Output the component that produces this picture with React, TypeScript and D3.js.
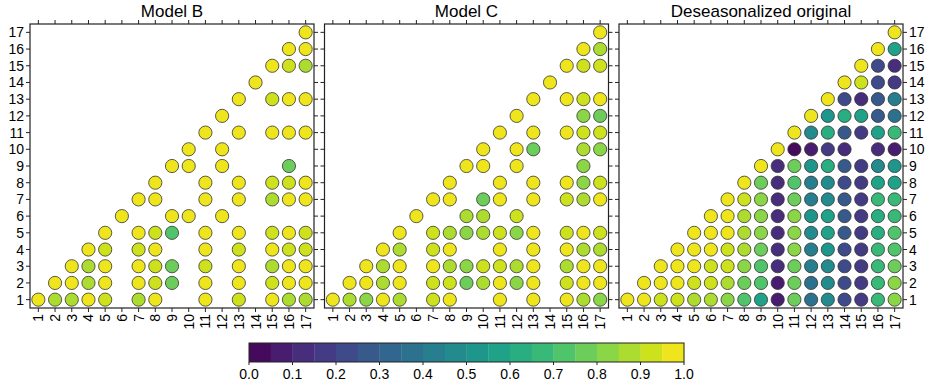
import React from "react";
import * as d3 from "d3";

// Values: each row r (1..17) lists columns r..17 (null = no point)
const modelB: (number | null)[][] = [
  [0.97, 0.87, 0.87, 0.97, 0.92, null, 0.87, 0.97, null, null, 0.97, null, 0.92, null, 0.97, 0.87, 0.87],
  [0.97, 0.97, 0.87, 0.97, null, 0.97, 0.92, 0.77, null, 0.97, null, 0.97, null, 0.92, 0.97, 0.97],
  [0.97, 0.87, 0.97, null, 0.97, 0.92, 0.77, null, 0.92, null, 0.97, null, 0.87, 0.97, 0.97],
  [0.97, 0.92, null, 0.92, 0.97, null, null, 0.97, null, 0.92, null, 0.97, 0.92, 0.92],
  [0.97, null, 0.97, 0.92, 0.72, null, 0.97, null, 0.97, null, 0.92, 0.97, 0.92],
  [0.97, null, null, 0.97, 0.97, null, 0.97, null, null, null, null, null],
  [0.97, 0.97, null, null, 0.97, null, 0.97, null, 0.87, 0.97, 0.97],
  [0.97, null, null, 0.97, null, 0.97, null, 0.92, 0.92, 0.97],
  [0.97, 0.97, null, 0.97, null, null, null, 0.77, null],
  [0.97, null, 0.97, null, null, null, null, null],
  [0.97, null, 0.97, null, 0.97, 0.97, 0.97],
  [0.97, null, null, null, null, null],
  [0.97, null, 0.92, 0.97, 0.97],
  [0.97, null, null, null],
  [0.97, 0.92, 0.87],
  [0.97, 0.97],
  [0.97],
];

const modelC: (number | null)[][] = [
  [0.97, 0.87, 0.82, 0.97, 0.87, null, 0.92, 0.97, null, null, 0.97, null, 0.97, null, 0.97, 0.87, 0.82],
  [0.97, 0.97, 0.87, 0.97, null, 0.92, 0.92, 0.77, 0.87, 0.97, 0.82, 0.97, null, 0.92, 0.97, 0.97],
  [0.97, 0.87, 0.97, null, 0.97, 0.87, 0.82, 0.92, 0.92, 0.87, 0.97, null, 0.87, 0.97, 0.97],
  [0.97, 0.87, null, 0.92, 0.97, null, null, 0.97, null, 0.97, null, 0.97, 0.87, 0.87],
  [0.97, null, 0.92, 0.87, 0.82, 0.87, 0.92, 0.82, 0.97, null, 0.92, 0.97, 0.92],
  [0.97, null, null, 0.87, 0.87, null, 0.92, null, null, null, null, null],
  [0.97, 0.97, null, 0.77, 0.97, null, 0.97, null, 0.92, 0.87, 0.97],
  [0.97, null, null, 0.97, null, 0.97, null, 0.97, 0.82, 0.92],
  [0.97, 0.97, null, 0.97, null, null, null, 0.82, null],
  [0.97, null, 0.97, 0.77, null, null, 0.87, 0.82],
  [0.97, null, 0.97, null, 0.97, 0.92, 0.92],
  [0.97, null, null, null, 0.82, 0.77],
  [0.97, null, 0.97, 0.92, 0.97],
  [0.97, null, null, null],
  [0.97, 0.92, 0.92],
  [0.97, 0.87],
  [0.97],
];

const deseasonalized: (number | null)[][] = [
  [0.97, 0.97, 0.92, 0.92, 0.87, 0.87, 0.82, 0.72, 0.57, 0.07, 0.77, 0.37, 0.47, 0.22, 0.17, 0.67, 0.82],
  [0.97, 0.97, 0.97, 0.92, 0.92, 0.87, 0.77, 0.72, 0.07, 0.77, 0.37, 0.47, 0.22, 0.17, 0.67, 0.82],
  [0.97, 0.97, 0.97, 0.92, 0.92, 0.82, 0.72, 0.12, 0.77, 0.42, 0.47, 0.22, 0.17, 0.67, 0.77],
  [0.97, 0.97, 0.97, 0.92, 0.87, 0.77, 0.12, 0.82, 0.42, 0.52, 0.22, 0.17, 0.67, 0.72],
  [0.97, 0.97, 0.97, 0.87, 0.82, 0.12, 0.82, 0.47, 0.57, 0.27, 0.17, 0.62, 0.72],
  [0.97, 0.97, 0.87, 0.82, 0.12, 0.82, 0.52, 0.57, 0.27, 0.17, 0.62, 0.67],
  [0.97, 0.92, 0.82, 0.12, 0.77, 0.42, 0.47, 0.27, 0.17, 0.67, 0.67],
  [0.97, 0.77, 0.12, 0.72, 0.42, 0.47, 0.22, 0.17, 0.57, 0.57],
  [0.97, 0.12, 0.77, 0.52, 0.62, 0.27, 0.17, 0.47, 0.52],
  [0.97, 0.02, 0.07, 0.17, 0.12, null, 0.12, 0.07],
  [0.97, 0.47, 0.62, 0.27, 0.17, 0.57, 0.67],
  [0.97, 0.52, 0.62, 0.57, 0.27, 0.37],
  [0.97, 0.22, 0.12, 0.27, 0.42],
  [0.97, 0.92, 0.22, 0.17],
  [0.97, 0.22, 0.12],
  [0.97, 0.57],
  [0.97],
];

const panelTitles = ["Model B", "Model C", "Deseasonalized original"];
const panelData = [modelB, modelC, deseasonalized];
const axisTicks = d3.range(1, 18);
const colorbarTicks = [0, 0.1, 0.2, 0.3, 0.4, 0.5, 0.6, 0.7, 0.8, 0.9, 1.0];
const nLevels = 20;

const W = 933;
const H = 386;
const panelLefts = [30, 324.5, 619];
const panelSize = 284;
const top = 24;
const FONT = "'Liberation Sans', Arial, Helvetica, sans-serif";

function levelColor(v: number) {
  const idx = Math.max(0, Math.min(nLevels - 1, Math.floor(v * nLevels)));
  return d3.interpolateViridis((idx + 0.5) / nLevels);
}

function Panel({ idx }: { idx: number }) {
  const left = panelLefts[idx];
  const x = d3.scaleLinear().domain([0.5, 17.5]).range([left, left + panelSize]);
  const y = d3.scaleLinear().domain([0.5, 17.5]).range([top + panelSize, top]);
  const rows = panelData[idx];
  const pts: { c: number; r: number; v: number }[] = [];
  rows.forEach((row, ri) => {
    const r = ri + 1;
    row.forEach((v, k) => {
      if (v !== null) pts.push({ c: r + k, r, v });
    });
  });
  const tl = 4;
  const bottom = top + panelSize;
  const right = left + panelSize;
  return (
    <g>
      <text x={left + panelSize / 2} y={17} textAnchor="middle" fontSize={17} fontFamily={FONT} fill="#000">
        {panelTitles[idx]}
      </text>
      {axisTicks.map((t) => (
        <g key={"t" + t} stroke="#222" strokeWidth={1}>
          <line x1={x(t)} x2={x(t)} y1={bottom} y2={bottom + tl} />
          <line x1={x(t)} x2={x(t)} y1={top} y2={top - tl} />
          <line x1={left} x2={left - tl} y1={y(t)} y2={y(t)} />
          <line x1={right} x2={right + tl} y1={y(t)} y2={y(t)} />
        </g>
      ))}
      {axisTicks.map((t) => (
        <text
          key={"xl" + t}
          transform={`translate(${x(t)},${bottom + 6}) rotate(-90)`}
          textAnchor="end"
          dominantBaseline="central"
          fontSize={14}
          fontFamily={FONT}
          fill="#000"
        >
          {t}
        </text>
      ))}
      {idx === 0 &&
        axisTicks.map((t) => (
          <text key={"yl" + t} x={left - 6} y={y(t)} textAnchor="end" dominantBaseline="central" fontSize={14} fontFamily={FONT} fill="#000">
            {t}
          </text>
        ))}
      {idx === 2 &&
        axisTicks.map((t) => (
          <text key={"yr" + t} x={right + 6} y={y(t)} textAnchor="start" dominantBaseline="central" fontSize={14} fontFamily={FONT} fill="#000">
            {t}
          </text>
        ))}
      {pts.map((p, i) => (
        <circle key={i} cx={x(p.c)} cy={y(p.r)} r={6.6} fill={levelColor(p.v)} stroke="#333" strokeWidth={0.8} />
      ))}
      <rect x={left} y={top} width={panelSize} height={panelSize} fill="none" stroke="#222" strokeWidth={1.2} />
    </g>
  );
}

function Colorbar() {
  const x0 = 249;
  const x1 = 684;
  const y0 = 343;
  const h = 19;
  const s = d3.scaleLinear().domain([0, 1]).range([x0, x1]);
  const levels = d3.range(nLevels);
  return (
    <g>
      {levels.map((i) => (
        <rect
          key={i}
          x={s(i / nLevels)}
          y={y0}
          width={s((i + 1) / nLevels) - s(i / nLevels) + 0.3}
          height={h}
          fill={d3.interpolateViridis((i + 0.5) / nLevels)}
        />
      ))}
      <rect x={x0} y={y0} width={x1 - x0} height={h} fill="none" stroke="#222" strokeWidth={1} />
      {colorbarTicks.map((t) => (
        <g key={t}>
          <line x1={s(t)} x2={s(t)} y1={y0 + h} y2={y0 + h + 3} stroke="#222" />
          <text x={s(t)} y={y0 + h + 17} textAnchor="middle" fontSize={14} fontFamily={FONT} fill="#000">
            {t.toFixed(1)}
          </text>
        </g>
      ))}
    </g>
  );
}

export default function App() {
  return (
    <svg width={W} height={H} style={{ position: "absolute", left: 0, top: 0, background: "#fff" }}>
      <rect width={W} height={H} fill="#fff" />
      {[0, 1, 2].map((i) => (
        <Panel key={i} idx={i} />
      ))}
      <Colorbar />
    </svg>
  );
}
